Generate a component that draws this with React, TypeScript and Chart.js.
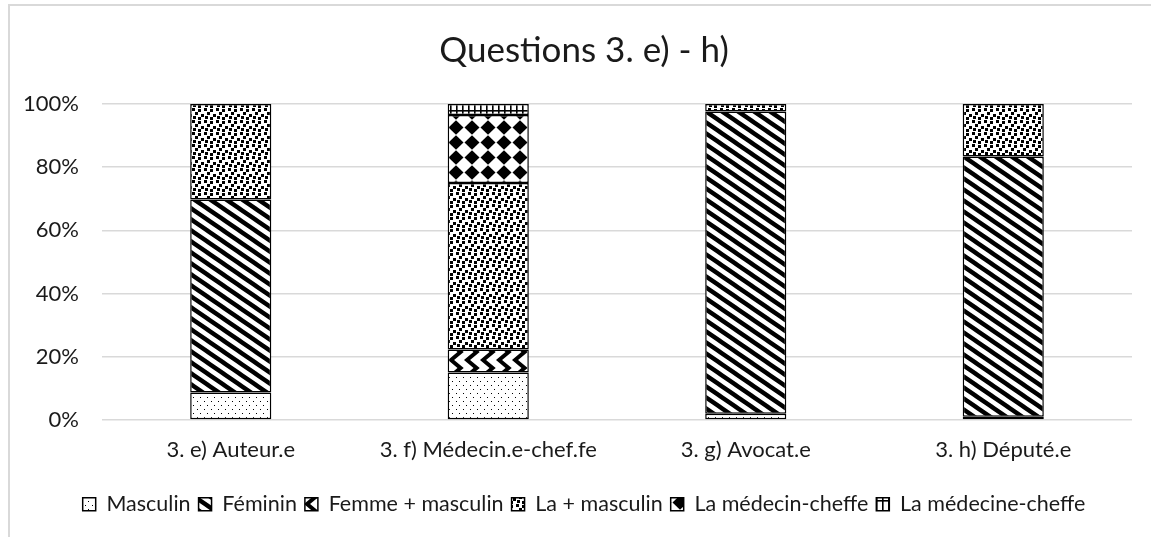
import React, { useEffect, useRef } from 'react';
import { Chart, registerables } from 'chart.js';

Chart.register(...registerables);

const categories = ['3. e) Auteur.e', '3. f) Médecin.e-chef.fe', '3. g) Avocat.e', '3. h) Député.e'];
const seriesNames = ['Masculin', 'Féminin', 'Femme + masculin', 'La + masculin', 'La médecin-cheffe', 'La médecine-cheffe'];
const masculin = [8.7, 15.0, 2.0, 1.0];
const feminin = [61.1, 0, 95.6, 82.4];
const femmeMasculin = [0, 7.3, 0, 0];
const laMasculin = [30.2, 52.7, 2.4, 16.6];
const laMedecinCheffe = [0, 21.5, 0, 0];
const laMedecineCheffe = [0, 3.5, 0, 0];
const yTickValues = [0, 20, 40, 60, 80, 100];
const chartTitle = 'Questions 3. e) - h)';

type Drawer = (x: CanvasRenderingContext2D, w: number, h: number) => void;

function makePattern(ctx: CanvasRenderingContext2D, w: number, h: number, draw: Drawer): CanvasPattern {
  const c = document.createElement('canvas');
  c.width = w;
  c.height = h;
  const x = c.getContext('2d') as CanvasRenderingContext2D;
  x.fillStyle = '#ffffff';
  x.fillRect(0, 0, w, h);
  x.fillStyle = '#000000';
  x.strokeStyle = '#000000';
  draw(x, w, h);
  return ctx.createPattern(c, 'repeat') as CanvasPattern;
}

function buildPatterns(ctx: CanvasRenderingContext2D): CanvasPattern[] {
  const dots = makePattern(ctx, 7, 8, (x) => {
    x.fillRect(1, 1, 1, 1);
    x.fillRect(4, 5, 1, 1);
  });
  const diag = makePattern(ctx, 16, 11, (x) => {
    x.lineWidth = 4.4;
    x.beginPath();
    for (let k = -1; k <= 1; k++) {
      x.moveTo(k * 16 - 16, -11);
      x.lineTo(k * 16 + 32, 22);
    }
    x.stroke();
  });
  const chevron = makePattern(ctx, 16, 16, (x) => {
    x.lineWidth = 4;
    x.beginPath();
    x.moveTo(15, -2);
    x.lineTo(3, 8);
    x.lineTo(15, 18);
    x.stroke();
  });
  const confetti = makePattern(ctx, 12, 12, (x) => {
    const pts = [[0, 0], [6, 1], [3, 4], [9, 6], [1, 8], [6, 9]];
    pts.forEach(([a, b]) => x.fillRect(a, b, 3, 3));
  });
  const diamonds = makePattern(ctx, 16, 15, (x) => {
    x.beginPath();
    x.moveTo(8, 0.3);
    x.lineTo(15.5, 7.5);
    x.lineTo(8, 14.7);
    x.lineTo(0.5, 7.5);
    x.closePath();
    x.fill();
  });
  const grid = makePattern(ctx, 6, 10, (x) => {
    x.fillRect(0, 0, 1.6, 10);
    x.fillRect(0, 0, 6, 1.6);
  });
  return [dots, diag, chevron, confetti, diamonds, grid];
}

export default function App() {
  const canvasRef = useRef<HTMLCanvasElement | null>(null);

  useEffect(() => {
    const canvas = canvasRef.current;
    if (!canvas) return;
    const ctx = canvas.getContext('2d') as CanvasRenderingContext2D;
    const patterns = buildPatterns(ctx);
    const seriesValues = [masculin, feminin, femmeMasculin, laMasculin, laMedecinCheffe, laMedecineCheffe];
    const textColor = '#1a1a1a';
    const fontFamily = 'Lato, "Open Sans", sans-serif';

    const chart = new Chart(ctx, {
      type: 'bar',
      data: {
        labels: categories,
        datasets: seriesNames.map((name, i) => ({
          label: name,
          data: seriesValues[i].map((v) => (v === 0 ? null : v)),
          backgroundColor: patterns[i],
          borderColor: '#000000',
          borderWidth: 1.5,
          borderSkipped: false,
          categoryPercentage: 1,
          barPercentage: 0.315,
        })),
      },
      options: {
        responsive: false,
        animation: false,
        events: [],
        layout: { padding: { left: 0, right: 32, top: 0, bottom: 12 } },
        plugins: {
          title: {
            display: true,
            text: chartTitle,
            color: textColor,
            font: { family: fontFamily, size: 35, weight: 'normal' },
            padding: { top: 29.5, bottom: 32.5 },
          },
          legend: {
            display: true,
            position: 'bottom',
            labels: {
              boxWidth: 13,
              boxHeight: 13,
              padding: 8,
              color: textColor,
              font: { family: fontFamily, size: 21.5 },
            },
          },
          tooltip: { enabled: false },
        },
        scales: {
          x: {
            stacked: true,
            grid: { display: false, drawTicks: false },
            border: { display: false },
            ticks: {
              color: textColor,
              font: { family: fontFamily, size: 22 },
              padding: 17,
              maxRotation: 0,
            },
            afterFit: (scale: any) => {
              scale.height = 65.5;
            },
          },
          y: {
            stacked: true,
            min: 0,
            max: 100,
            afterBuildTicks: (scale: any) => {
              scale.ticks = yTickValues.map((v) => ({ value: v }));
            },
            grid: { color: '#d9d9d9', lineWidth: 1.5, drawTicks: false },
            border: { display: false },
            ticks: {
              color: textColor,
              font: { family: fontFamily, size: 22 },
              padding: 23,
              callback: (v: any) => `${v}%`,
            },
            afterFit: (scale: any) => {
              scale.width = 102;
            },
          },
          y2: {
            type: 'linear',
            position: 'right',
            grid: { display: false, drawTicks: false },
            border: { display: false },
            ticks: { display: false },
            afterFit: (scale: any) => {
              scale.width = 36;
            },
          },
        },
      },
    });
    return () => chart.destroy();
  }, []);

  return (
    <div
      style={{
        position: 'fixed',
        left: 0,
        top: 0,
        width: 1151,
        height: 537,
        background: '#ffffff',
        overflow: 'hidden',
      }}
    >
      <div
        style={{
          position: 'absolute',
          left: 8,
          top: 4,
          width: 1200,
          height: 600,
          border: '2px solid #d9d9d9',
          boxSizing: 'border-box',
        }}
      />
      <canvas
        ref={canvasRef}
        width={1200}
        height={537}
        style={{ position: 'absolute', left: 0, top: 0, display: 'block' }}
      />
    </div>
  );
}
